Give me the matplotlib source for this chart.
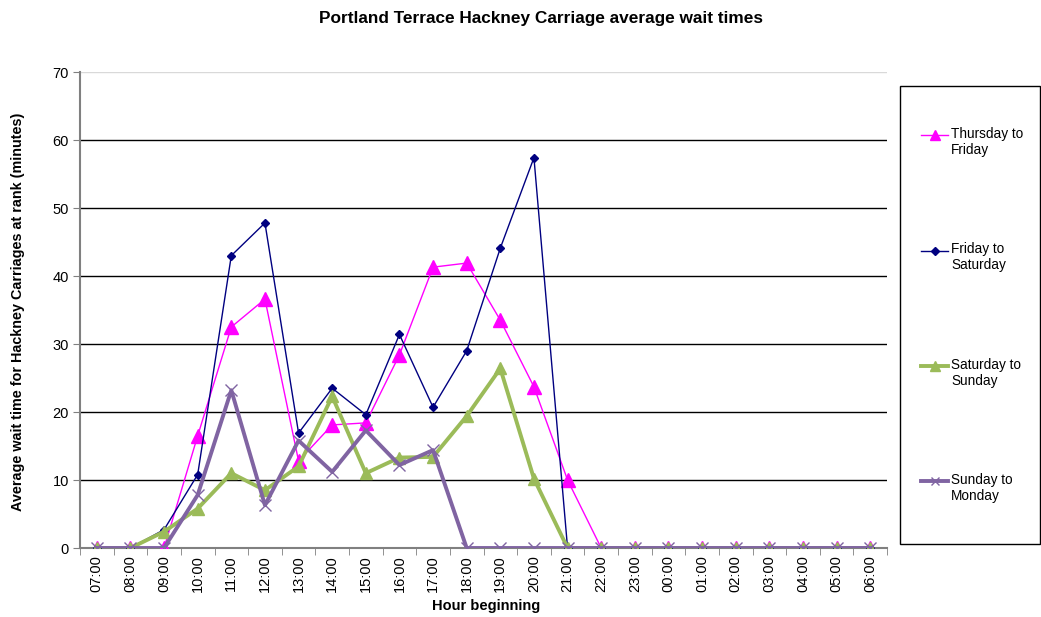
import matplotlib
matplotlib.use("Agg")
import matplotlib.pyplot as plt
from matplotlib.patches import Rectangle
from matplotlib.legend_handler import HandlerLine2D
import numpy as np

plt.rcParams['font.family'] = ['Liberation Sans', 'DejaVu Sans']

hours = ["07:00", "08:00", "09:00", "10:00", "11:00", "12:00", "13:00", "14:00",
         "15:00", "16:00", "17:00", "18:00", "19:00", "20:00", "21:00", "22:00",
         "23:00", "00:00", "01:00", "02:00", "03:00", "04:00", "05:00", "06:00"]

thu_fri = [0, 0, 0, 16.5, 32.5, 36.6, 12.8, 18.1, 18.4, 28.4, 41.3, 41.9,
           33.5, 23.7, 10.0, 0, 0, 0, 0, 0, 0, 0, 0, 0]
fri_sat = [0, 0, 2.7, 10.8, 43.0, 47.8, 16.9, 23.5, 19.6, 31.4, 20.7, 29.0,
           44.1, 57.4, 0, 0, 0, 0, 0, 0, 0, 0, 0, 0]
sat_sun = [0, 0, 2.4, 5.8, 11.0, 8.5, 12.0, 22.3, 11.0, 13.3, 13.4, 19.4,
           26.4, 10.2, 0, 0, 0, 0, 0, 0, 0, 0, 0, 0]
sun_mon = [0, 0, 0, 7.8, 23.2, 6.3, 15.8, 11.2, 17.3, 12.2, 14.4, 0,
           0, 0, 0, 0, 0, 0, 0, 0, 0, 0, 0, 0]

series_labels = ["Thursday to\nFriday", "Friday to\nSaturday",
                 "Saturday to\nSunday", "Sunday to\nMonday"]
yticks = [0, 10, 20, 30, 40, 50, 60, 70]

W, H = 1041, 617
fig = plt.figure(figsize=(W / 100, H / 100), dpi=100)
ax = fig.add_axes([80 / W, 1 - 548 / H, (887 - 80) / W, (548 - 72) / H])

x = np.arange(len(hours))
ax.plot(x, thu_fri, color='#FF00FF', lw=1.0, marker='^', ms=9.5, mec='#FF00FF',
        mfc='#FF00FF', label=series_labels[0], zorder=3)
ax.plot(x, fri_sat, color='#000080', lw=1.0, marker='D', ms=4.5, mec='#000080',
        mfc='#000080', label=series_labels[1], zorder=4)
ax.plot(x, sat_sun, color='#9BBB59', lw=2.8, marker='^', ms=8.5, mec='#9BBB59',
        mfc='#9BBB59', label=series_labels[2], zorder=5)
ax.plot(x, sun_mon, color='#8064A2', lw=2.8, marker='x', ms=8, mew=1.0,
        mec='#8064A2', label=series_labels[3], zorder=6)

ax.set_xlim(-0.5, len(hours) - 0.5)
ax.set_ylim(0, 70)
ax.set_yticks(yticks)
ax.set_yticklabels([str(v) for v in yticks], fontsize=10.5)
ax.set_xticks(x)
ax.set_xticklabels(hours, rotation=90, fontsize=10.5)
ax.tick_params(axis='x', which='major', length=0, pad=5)
ax.set_xticks(np.arange(-0.5, len(hours), 1.0), minor=True)
ax.tick_params(axis='x', which='minor', length=5, color='#808080', direction='out')
ax.tick_params(axis='y', length=5, color='#808080', direction='out', pad=3)

for v in yticks[1:-1]:
    ax.axhline(v, color='black', lw=1.0, zorder=1)
ax.axhline(70, color='#D9D9D9', lw=1.0, zorder=1)

ax.spines['right'].set_visible(False)
ax.spines['top'].set_visible(False)
ax.spines['left'].set_color('#808080')
ax.spines['bottom'].set_color('#808080')
ax.spines['left'].set_linewidth(1.5)
ax.spines['bottom'].set_linewidth(1.5)

ax.set_xlabel("Hour beginning", fontsize=10.5, fontweight='bold', va='center')
ax.xaxis.set_label_coords(0.503, -(606 - 548) / 476)
ax.set_ylabel("Average wait time for Hackney Carriages at rank (minutes)",
              fontsize=10.4, fontweight='bold', va='center')
ax.yaxis.set_label_coords(-(80 - 18) / 807, 0.497)

fig.text(541 / W, 1 - 18 / H, "Portland Terrace Hackney Carriage average wait times",
         ha='center', va='center', fontsize=12.4, fontweight='bold')

# legend box
fig.patches.append(Rectangle((900 / W, 1 - 544 / H), (1040 - 900) / W, (544 - 86) / H,
                             transform=fig.transFigure, fill=False, edgecolor='black',
                             lw=1.0))


class TopHandler(HandlerLine2D):
    def create_artists(self, legend, orig_handle, xdescent, ydescent, width,
                       height, fontsize, trans):
        arts = super().create_artists(legend, orig_handle, xdescent, ydescent,
                                      width, height, fontsize, trans)
        for a in arts:
            a.set_ydata(np.asarray(a.get_ydata()) + 0.55 * fontsize)
        return arts


handles, labels = ax.get_legend_handles_labels()
leg = fig.legend(handles, labels, loc='center left',
                 bbox_to_anchor=(921 / W, 1 - 315 / H), frameon=False,
                 fontsize=9.8, labelspacing=6.3, handlelength=2.0,
                 handletextpad=0.2, borderpad=0, borderaxespad=0, markerscale=0.8,
                 handler_map={h: TopHandler() for h in handles})
for t in leg.get_texts():
    t.set_linespacing(1.15)

fig.savefig("out.png", dpi=100)
